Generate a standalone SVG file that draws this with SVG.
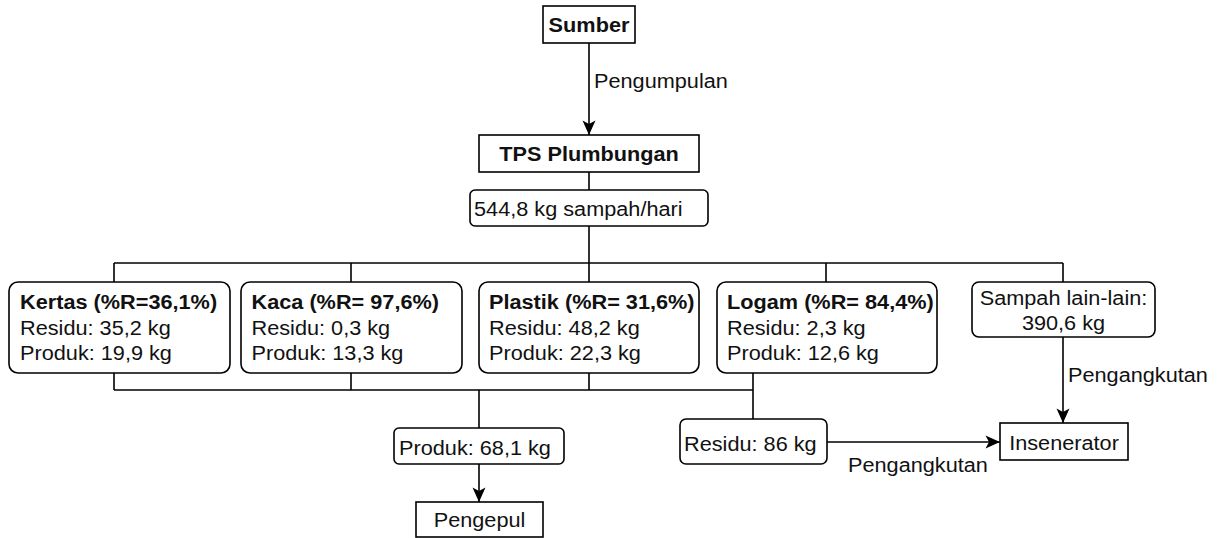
<svg xmlns="http://www.w3.org/2000/svg" width="1217" height="538" viewBox="0 0 1217 538">
  <style>
    .box { fill: #ffffff; stroke: #000000; stroke-width: 1.6; }
    .wire { fill: none; stroke: #000000; stroke-width: 1.6; }
    text { font-family: "Liberation Sans", Arial, sans-serif; font-size: 20px; fill: #111111; }
    .b { font-weight: bold; }
    .c { text-anchor: middle; }
  </style>
  <defs>
    <marker id="arrow" markerUnits="userSpaceOnUse" markerWidth="16" markerHeight="14" viewBox="0 0 16 14" refX="15" refY="7" orient="auto">
      <path d="M0.5,0.5 L15,7 L0.5,13.5 L4,7 Z" fill="#000000"/>
    </marker>
  </defs>
  <rect width="1217" height="538" fill="#ffffff"/>

  <!-- connectors -->
  <g id="connectors">
    <path class="wire" d="M589,43 V135" marker-end="url(#arrow)"/>
    <path class="wire" d="M589,172 V190"/>
    <path class="wire" d="M589,226 V263"/>
    <path class="wire" d="M114,263 H1063"/>
    <path class="wire" d="M114,263 V282 M351,263 V282 M589,263 V282 M826,263 V282 M1063,263 V282"/>
    <path class="wire" d="M114,373 V390 M351,373 V390 M589,373 V390 M753,373 V390"/>
    <path class="wire" d="M114,390 H753"/>
    <path class="wire" d="M479,390 V428"/>
    <path class="wire" d="M753,390 V419"/>
    <path class="wire" d="M479,464 V502" marker-end="url(#arrow)"/>
    <path class="wire" d="M827,442 H1000" marker-end="url(#arrow)"/>
    <path class="wire" d="M1063,337 V423" marker-end="url(#arrow)"/>
    <text transform="translate(594 88) scale(1.085 1)">Pengumpulan</text>
    <text transform="translate(1068 382) scale(1.085 1)">Pengangkutan</text>
    <text transform="translate(848 472) scale(1.085 1)">Pengangkutan</text>
  </g>

  <!-- nodes -->
  <g id="sumber">
    <rect class="box" x="543" y="6" width="92" height="37"/>
    <text class="b c" transform="translate(589 32) scale(1.085 1)">Sumber</text>
  </g>
  <g id="tps">
    <rect class="box" x="479" y="135" width="220" height="37"/>
    <text class="b c" transform="translate(589 160.5) scale(1.085 1)">TPS Plumbungan</text>
  </g>
  <g id="total">
    <rect class="box" x="470" y="190" width="238" height="36" rx="5"/>
    <text transform="translate(474 216) scale(1.085 1)">544,8 kg sampah/hari</text>
  </g>
  <g id="kertas">
    <rect class="box" x="9" y="282" width="221" height="91" rx="9"/>
    <text class="b" transform="translate(20 309) scale(1.085 1)">Kertas (%R=36,1%)</text>
    <text transform="translate(20 334.5) scale(1.085 1)">Residu: 35,2 kg</text>
    <text transform="translate(20 360) scale(1.085 1)">Produk: 19,9 kg</text>
  </g>
  <g id="kaca">
    <rect class="box" x="241" y="282" width="221" height="91" rx="9"/>
    <text class="b" transform="translate(251.5 309) scale(1.085 1)">Kaca (%R= 97,6%)</text>
    <text transform="translate(251.5 334.5) scale(1.085 1)">Residu: 0,3 kg</text>
    <text transform="translate(251.5 360) scale(1.085 1)">Produk: 13,3 kg</text>
  </g>
  <g id="plastik">
    <rect class="box" x="479" y="282" width="220" height="91" rx="9"/>
    <text class="b" transform="translate(489 309) scale(1.085 1)">Plastik (%R= 31,6%)</text>
    <text transform="translate(489 334.5) scale(1.085 1)">Residu: 48,2 kg</text>
    <text transform="translate(489 360) scale(1.085 1)">Produk: 22,3 kg</text>
  </g>
  <g id="logam">
    <rect class="box" x="717" y="282" width="220" height="91" rx="9"/>
    <text class="b" transform="translate(727 309) scale(1.085 1)">Logam (%R= 84,4%)</text>
    <text transform="translate(727 334.5) scale(1.085 1)">Residu: 2,3 kg</text>
    <text transform="translate(727 360) scale(1.085 1)">Produk: 12,6 kg</text>
  </g>
  <g id="lain">
    <rect class="box" x="972" y="282" width="183" height="55" rx="7"/>
    <text class="c" transform="translate(1063.5 305) scale(1.085 1)">Sampah lain-lain:</text>
    <text class="c" transform="translate(1063.5 330) scale(1.085 1)">390,6 kg</text>
  </g>
  <g id="produk">
    <rect class="box" x="394" y="428" width="170" height="36" rx="5"/>
    <text transform="translate(399 455) scale(1.085 1)">Produk: 68,1 kg</text>
  </g>
  <g id="residu">
    <rect class="box" x="680" y="419" width="147" height="45" rx="6"/>
    <text transform="translate(684 451) scale(1.085 1)">Residu: 86 kg</text>
  </g>
  <g id="pengepul">
    <rect class="box" x="416" y="502" width="127" height="35"/>
    <text class="c" transform="translate(479.5 527) scale(1.085 1)">Pengepul</text>
  </g>
  <g id="insenerator">
    <rect class="box" x="1000" y="423" width="128" height="37"/>
    <text class="c" transform="translate(1064 450) scale(1.085 1)">Insenerator</text>
  </g>
</svg>
